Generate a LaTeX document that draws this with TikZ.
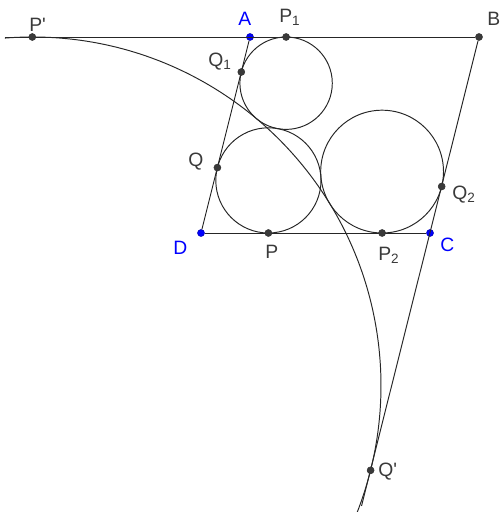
\documentclass[tikz,border=0pt]{standalone}
\usepackage{fontspec}
\setmainfont{Liberation Sans}
\definecolor{ptgray}{HTML}{3A3A3A}
\definecolor{ptblue}{HTML}{0000FF}
\begin{document}
\begin{tikzpicture}
		\tikzstyle{Dot} = [circle, inner sep=0pt, minimum size=0.14cm, fill=ptgray, draw=black!80, line width=0.3pt]
		\tikzstyle{BlueDot} = [Dot, fill=ptblue, draw=ptblue!70!black]
		\tikzstyle{Lbl} = [anchor=base west, inner sep=0pt, text=ptgray, font=\fontsize{11}{13}\selectfont]
		\tikzstyle{BlueLbl} = [Lbl, text=ptblue]
		\tikzstyle{geo} = [line width=0.55pt, black!85]
		
		\useasboundingbox (0,0) rectangle (10.04,10.24);
		
		% parallelogram and extensions
		\coordinate (left) at (0.10,9.50);
		\coordinate (low) at (7.23,0.12);
		\node (A) [BlueDot] at (5.00,9.50) {};
		\node (B) [Dot] at (9.58,9.50) {};
		\node (C) [BlueDot] at (8.60,5.58) {};
		\node (D) [BlueDot] at (4.02,5.58) {};
		
		% circle centres
		\coordinate (O1) at (5.722,8.576);
		\coordinate (O2) at (5.368,6.632);
		\coordinate (O3) at (7.642,6.808);
		\coordinate (O) at (0.646,2.526);
		
		\draw [geo] (left) -- (B);
		\draw [geo] (B) -- (low);
		\draw [geo] (A) -- (D);
		\draw [geo] (D) -- (C);
		\draw [geo] (O1) circle (0.924);
		\draw [geo] (O2) circle (1.052);
		\draw [geo] (O3) circle (1.228);
		\draw [geo] ([shift={(94.5:6.974)}]O) arc [start angle=94.5, end angle=-21.3, radius=6.974];
		
		% points of tangency
		\node (Pp) [Dot] at (0.646,9.50) {};
		\node (P1) [Dot] at (5.722,9.50) {};
		\node (Q1) [Dot] at (4.826,8.80) {};
		\node (Q) [Dot] at (4.348,6.888) {};
		\node (P) [Dot] at (5.368,5.58) {};
		\node (P2) [Dot] at (7.642,5.58) {};
		\node (Q2) [Dot] at (8.834,6.51) {};
		\node (Qp) [Dot] at (7.412,0.834) {};
		
		% labels
		\node (lPp) [Lbl] at (0.58,9.61) {P\textquotesingle};
		\node (lA) [BlueLbl] at (4.76,9.73) {A};
		\node (lP1) [Lbl] at (5.58,9.79) {P\textsubscript{1}};
		\node (lB) [Lbl] at (9.74,9.73) {B};
		\node (lQ1) [Lbl] at (4.16,8.91) {Q\textsubscript{1}};
		\node (lQ) [Lbl] at (3.76,6.91) {Q};
		\node (lD) [BlueLbl] at (3.46,5.15) {D};
		\node (lP) [Lbl] at (5.30,5.07) {P};
		\node (lP2) [Lbl] at (7.56,5.03) {P\textsubscript{2}};
		\node (lC) [BlueLbl] at (8.80,5.21) {C};
		\node (lQ2) [Lbl] at (9.04,6.25) {Q\textsubscript{2}};
		\node (lQp) [Lbl] at (7.56,0.71) {Q\textquotesingle};
		\end{tikzpicture}
\end{document}
